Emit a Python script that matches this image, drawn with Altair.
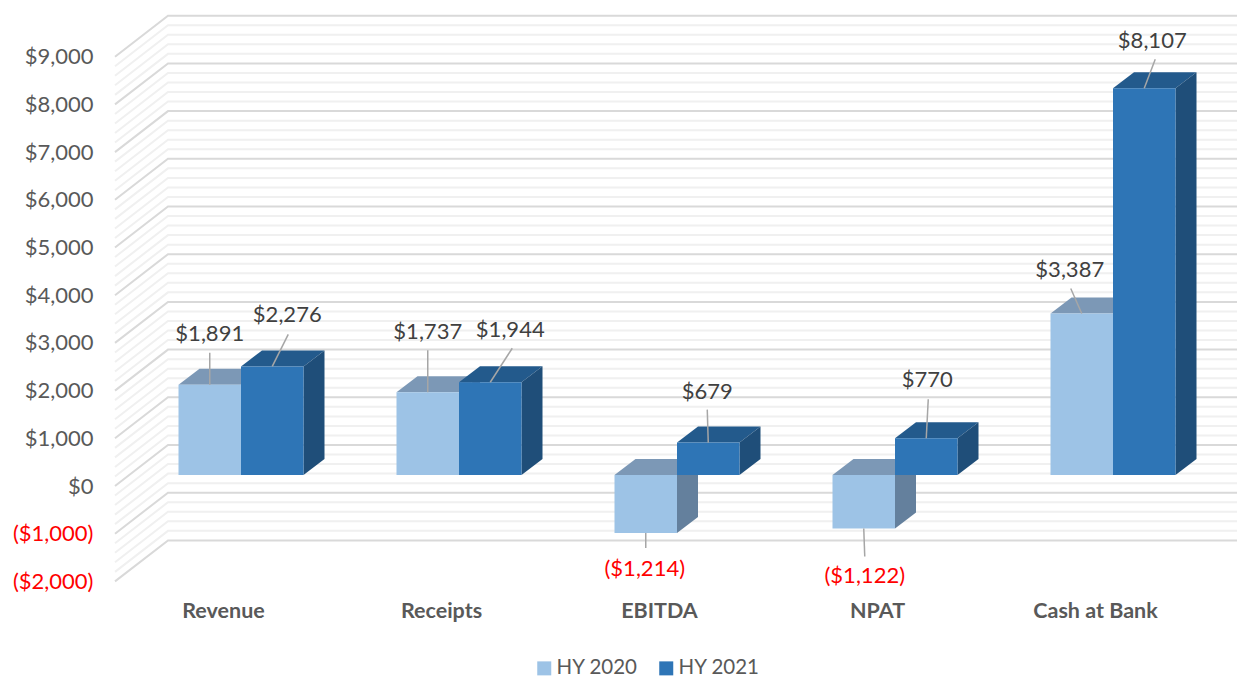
import altair as alt
import pandas as pd

# ---- chart values ----
CATEGORIES = ["Revenue", "Receipts", "EBITDA", "NPAT", "Cash at Bank"]
HY_2020 = [1891, 1737, -1214, -1122, 3387]
HY_2021 = [2276, 1944, 679, 770, 8107]
SERIES = ["HY 2020", "HY 2021"]
TICKS = list(range(-2000, 10000, 1000))
MINOR_STEP = 200

# ---- layout (page pixels, converted through the scales' units) ----
PAGE_W, PAGE_H = 1229, 669
LEFT, TOP, RIGHT, BOTTOM = 100, 8, 1237, 590
PX_PER_CAT = 218.0
CAT0_X = 241.0
PX_PER_UNIT = 0.0477
ZERO_Y = 486.0
BAR_W = 62.5 / PX_PER_CAT
BAR_BASE = (ZERO_Y - 475.0) / PX_PER_UNIT
DEPTH_X = 21 / PX_PER_CAT
DEPTH_Y = 16 / PX_PER_UNIT
WALL_X = 53 / PX_PER_CAT
WALL_Y = 41 / PX_PER_UNIT
FRONT_X = 115
FONT = "Lato"

FACE = {
    "HY 2020": {"front": "#9dc3e6", "top": "#7c98b6", "side": "#64809d"},
    "HY 2021": {"front": "#2e75b6", "top": "#235a8c", "side": "#1f4e79"},
}

# label centre and leader end, as pixel offsets from the top-centre of each front face
OFFSETS_2020 = [(0, -51, 0, -32), (0, -60, 0, -42), (-1, 36, 0, 15), (1, 47, 1, 28), (-12, -43, -11, -25)]
OFFSETS_2021 = [(15, -51, 16, -32), (20, -52, 22, -34), (-1, -51, -1, -33), (1, -58, 2, -39), (8, -47, 11, -29)]


def ux(px):
    return (px - CAT0_X) / PX_PER_CAT


def uy(py):
    return (ZERO_Y - py) / PX_PER_UNIT


x_scale = alt.Scale(domain=[ux(LEFT), ux(RIGHT)], nice=False, zero=False)
y_scale = alt.Scale(domain=[uy(BOTTOM), uy(TOP)], nice=False, zero=False)

# ---- tables ----
front, top, side, labels = [], [], [], []
for s, vals, offs in [(SERIES[0], HY_2020, OFFSETS_2020), (SERIES[1], HY_2021, OFFSETS_2021)]:
    for i, (cat, v, o) in enumerate(zip(CATEGORIES, vals, offs)):
        xl = i - BAR_W if s == SERIES[0] else i
        xr = xl + BAR_W
        hi = BAR_BASE + max(v, 0)
        lo = BAR_BASE + min(v, 0)
        key = f"{s}-{cat}"
        front.append(dict(series=s, xl=xl, xr=xr, hi=hi, lo=lo))
        for px, a, b in [(xl, hi, hi), (xl + DEPTH_X, hi + DEPTH_Y, hi), (xr, hi + DEPTH_Y, hi),
                         (xr + DEPTH_X, hi + DEPTH_Y, hi + DEPTH_Y)]:
            top.append(dict(series=s, key=key, px=px, upper=a, lower=b))
        for px, a, b in [(xr, hi, lo), (xr + DEPTH_X, hi + DEPTH_Y, lo + DEPTH_Y)]:
            side.append(dict(series=s, key=key, px=px, upper=a, lower=b))
        ax, ay = (xl + xr) / 2, BAR_BASE + v if v < 0 else hi
        labels.append(dict(
            value=v,
            text=f"(${-v:,})" if v < 0 else f"${v:,}",
            tx=ax + o[0] / PX_PER_CAT, ty=ay - o[1] / PX_PER_UNIT,
            x1=ax, y1=ay, xe=ax + o[2] / PX_PER_CAT, ye=ay - o[3] / PX_PER_UNIT,
        ))

grid_rows = []
for v in range(TICKS[0], TICKS[-1] + 1, MINOR_STEP):
    major = v % 1000 == 0
    for px, py in [(ux(FRONT_X), v), (ux(FRONT_X) + WALL_X, v + WALL_Y), (ux(RIGHT), v + WALL_Y)]:
        grid_rows.append(dict(level=v, major=major, px=px, py=py))
grid = pd.DataFrame(grid_rows)
front_df, top_df, side_df, label_df = map(pd.DataFrame, (front, top, side, labels))

label_expr = ("datum.value < 0 ? '($' + format(-datum.value, ',') + ')' : '$' + format(datum.value, ',')")
cat_expr = "[" + ",".join(f"'{c}'" for c in CATEGORIES) + "][datum.value]"

x_axis = alt.Axis(
    values=list(range(len(CATEGORIES))), labelExpr=cat_expr, domain=False, ticks=False, grid=False, title=None,
    labelFont=FONT, labelFontSize=21.5, labelFontWeight="bold", labelColor="#595959",
    labelPadding=10, labelOffset=-18, labelFlush=False, labelOverlap=False)
y_axis = alt.Axis(
    values=TICKS, labelExpr=label_expr, domain=False, ticks=False, grid=False, title=None,
    labelFont=FONT, labelFontSize=22, labelPadding=7, labelOverlap=False,
    labelColor=alt.condition("datum.value < 0", alt.value("#ff0000"), alt.value("#595959")))


def XC(field):
    return alt.X(field, scale=x_scale, axis=x_axis)


def YC(field):
    return alt.Y(field, scale=y_scale, axis=y_axis, stack=None)


minor = alt.Chart(grid[~grid.major]).mark_line(color="#f0f0f0", strokeWidth=2).encode(
    x=XC("px:Q"), y=YC("py:Q"), detail="level:N", order="px:Q")
major = alt.Chart(grid[grid.major]).mark_line(color="#d9d9d9", strokeWidth=2).encode(
    x=XC("px:Q"), y=YC("py:Q"), detail="level:N", order="px:Q")

color_scale = alt.Scale(domain=SERIES, range=[FACE[s]["front"] for s in SERIES])
legend = alt.Legend(orient="none", legendX=434, legendY=650, direction="horizontal", title=None,
                    symbolType="square", symbolSize=196, symbolStrokeWidth=0, columnPadding=18,
                    labelFont=FONT, labelFontSize=20.5, labelColor="#595959", labelOffset=2)

faces = []
for s in SERIES:
    t = alt.Chart(top_df[top_df.series == s]).mark_area(color=FACE[s]["top"], opacity=1, orient="vertical").encode(
        x=XC("px:Q"), y=YC("upper:Q"), y2="lower:Q", detail="key:N")
    d = alt.Chart(side_df[side_df.series == s]).mark_area(color=FACE[s]["side"], opacity=1, orient="vertical").encode(
        x=XC("px:Q"), y=YC("upper:Q"), y2="lower:Q", detail="key:N")
    f = alt.Chart(front_df[front_df.series == s]).mark_rect(strokeWidth=0).encode(
        x=XC("xl:Q"), x2="xr:Q", y=YC("hi:Q"), y2="lo:Q",
        color=alt.Color("series:N", scale=color_scale, legend=legend))
    faces += [t, d, f]

leaders = alt.Chart(label_df).mark_rule(color="#a6a6a6", strokeWidth=1.5).encode(
    x=XC("x1:Q"), x2="xe:Q", y=YC("y1:Q"), y2="ye:Q")
texts = alt.Chart(label_df).mark_text(font=FONT, fontSize=22, align="center", baseline="middle").encode(
    x=XC("tx:Q"), y=YC("ty:Q"), text="text:N",
    color=alt.condition("datum.value < 0", alt.value("#ff0000"), alt.value("#404040")))

chart = alt.layer(minor, major, *faces, leaders, texts).properties(
    width=RIGHT - LEFT, height=BOTTOM - TOP,
    padding={"left": LEFT - 8, "top": TOP - 8, "right": PAGE_W - (RIGHT - 8), "bottom": PAGE_H - (BOTTOM - 8)},
    autosize="none",
).configure_view(stroke=None)

chart.save("out.html", embed_options={"renderer": "svg", "actions": False})
